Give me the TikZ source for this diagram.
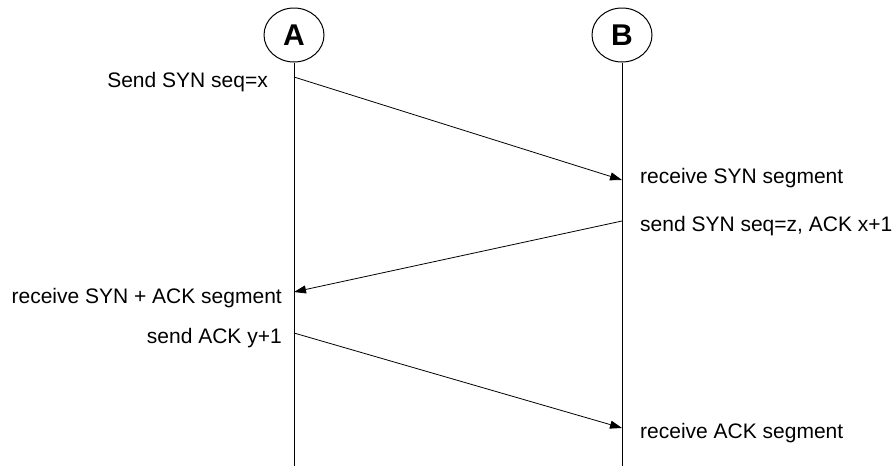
\documentclass[tikz,border=0pt]{standalone}
\usepackage{fontspec}
\setmainfont{Liberation Sans}
\usetikzlibrary{arrows.meta,shapes.geometric}
\begin{document}
\begin{tikzpicture}[x=1pt,y=-1pt,
  actor/.style={draw,line width=1pt,ellipse,minimum width=60pt,minimum height=54pt,inner sep=0pt,font=\fontsize{30}{30}\selectfont\bfseries},
  lifeline/.style={line width=1pt},
  msg/.style={line width=0.8pt,-{Triangle[length=12pt,width=8pt]}},
  lbl/.style={inner sep=0pt,font=\fontsize{21}{21}\selectfont},
  lblL/.style={lbl,anchor=base east},
  lblR/.style={lbl,anchor=base west}]
\useasboundingbox (0,0) rectangle (896,466);
\node[actor] (A) at (294,35) {A};
\node[actor] (B) at (622,35) {B};
\coordinate (Aend) at (294,466);
\coordinate (Bend) at (622,466);
\draw[lifeline] (A.south) -- (Aend);
\draw[lifeline] (B.south) -- (Bend);
\coordinate (a1) at (294,77);
\coordinate (b1) at (622,180);
\coordinate (b2) at (622,221);
\coordinate (a2) at (294,292);
\coordinate (a3) at (294,333);
\coordinate (b3) at (622,428);
\draw[msg] (a1) -- (b1);
\draw[msg] (b2) -- (a2);
\draw[msg] (a3) -- (b3);
\node[lblL] (t1) at (268,87) {Send SYN seq=x};
\node[lblR] (t2) at (640,183) {receive SYN segment};
\node[lblR] (t3) at (640,231.5) {send SYN seq=z, ACK x+1};
\node[lblL] (t4) at (282,303) {receive SYN + ACK segment};
\node[lblL] (t5) at (282,343) {send ACK y+1};
\node[lblR] (t6) at (640,438) {receive ACK segment};
\end{tikzpicture}
\end{document}
